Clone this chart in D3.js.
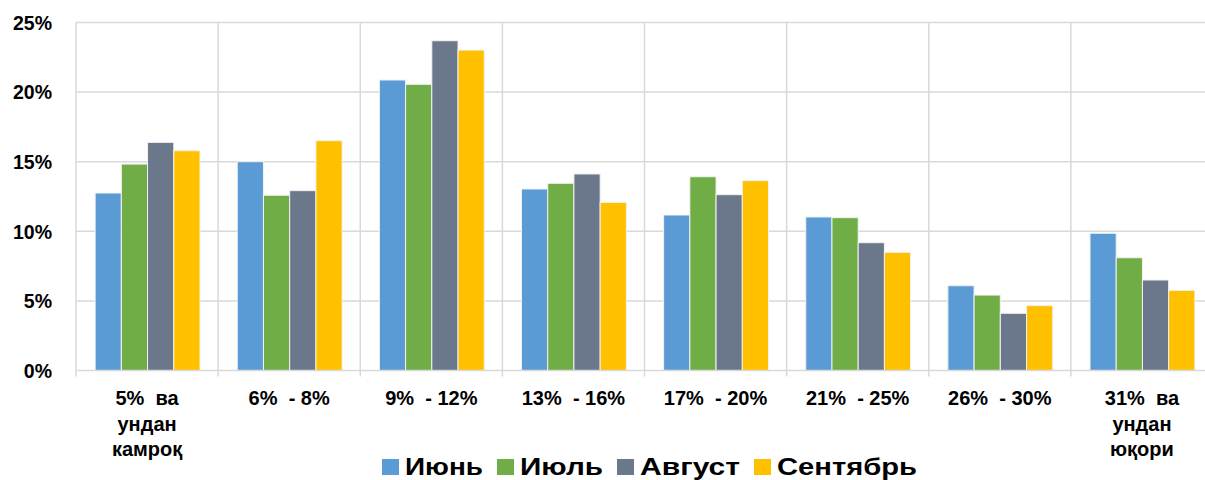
<!DOCTYPE html>
<html><head><meta charset="utf-8">
<script src="https://cdn.jsdelivr.net/npm/d3@7"></script>
<style>
html,body{margin:0;padding:0;background:#fff;}
svg{display:block;font-family:"Liberation Sans",Arial,sans-serif;}
text{white-space:pre;}
</style></head>
<body>
<svg id="chart" width="1205" height="480"></svg>
<script>
const categories = [
  ["5%  ва","ундан","камроқ"],
  ["6%  - 8%"],
  ["9%  - 12%"],
  ["13%  - 16%"],
  ["17%  - 20%"],
  ["21%  - 25%"],
  ["26%  - 30%"],
  ["31%  ва","ундан","юқори"]
];
const seriesNames = ["Июнь","Июль","Август","Сентябрь"];
const seriesColors = ["#5B9BD5","#70AD47","#6B778A","#FFC000"];
const june      = [12.75, 15.0, 20.87, 13.04, 11.17, 11.03, 6.09, 9.86];
const july      = [14.83, 12.59, 20.56, 13.45, 13.92, 10.98, 5.42, 8.10];
const august    = [16.39, 12.92, 23.69, 14.12, 12.63, 9.18, 4.11, 6.50];
const september = [15.79, 16.51, 23.02, 12.08, 13.64, 8.49, 4.66, 5.76];
const yTicks = [0,5,10,15,20,25];
const legendWidths = [78, 83, 100, 140];

(function(){
const series = [june, july, august, september];
const svg = d3.select("#chart");
const mLeft = 76, mRight = 1213, mTop = 22.5, mBottom = 370.5;

const x0 = d3.scaleBand().domain(d3.range(categories.length)).range([mLeft, mRight]).padding(0);
const bw = x0.bandwidth();
const gap = bw * 0.262;
const x1 = d3.scaleBand().domain(d3.range(seriesNames.length)).range([gap/2 + 0.5, bw - gap/2 + 0.5]).padding(0);
const y = d3.scaleLinear().domain([0,25]).range([mBottom, mTop]);

// horizontal gridlines
svg.append("g").selectAll("line").data(yTicks.filter(d=>d>0)).join("line")
  .attr("x1", mLeft).attr("x2", mRight)
  .attr("y1", d=>y(d)).attr("y2", d=>y(d))
  .attr("stroke", "#d9d9d9").attr("stroke-width", 1.5);
// vertical gridlines
svg.append("g").selectAll("line").data(d3.range(categories.length+1)).join("line")
  .attr("x1", i=> i<categories.length ? x0(i) : mRight)
  .attr("x2", i=> i<categories.length ? x0(i) : mRight)
  .attr("y1", mTop).attr("y2", mBottom + 6)
  .attr("stroke", "#d9d9d9").attr("stroke-width", 1.5);

// bars
const gBars = svg.append("g");
categories.forEach((c, ci) => {
  series.forEach((s, si) => {
    gBars.append("rect")
      .attr("x", x0(ci) + x1(si))
      .attr("width", x1.bandwidth())
      .attr("y", y(s[ci]))
      .attr("height", y(0) - y(s[ci]))
      .attr("fill", seriesColors[si])
      .attr("stroke", "#f2f2f2").attr("stroke-width", 1);
  });
});

// baseline
svg.append("line").attr("x1", mLeft).attr("x2", mRight).attr("y1", y(0)).attr("y2", y(0))
  .attr("stroke", "#d9d9d9").attr("stroke-width", 1.5);

// y axis labels
const yAxis = d3.axisLeft(y).tickValues(yTicks).tickFormat(d=>d+"%").tickSize(0).tickPadding(0);
const gy = svg.append("g").attr("transform", `translate(${mLeft-24},0)`).call(yAxis);
gy.select(".domain").remove();
gy.selectAll("text").attr("font-size", 19.5).attr("font-weight", "bold").attr("fill", "#000")
  .attr("font-family", '"Liberation Sans",Arial,sans-serif').attr("dy", "0.35em");

// category labels
const gx = svg.append("g");
categories.forEach((lines, ci) => {
  const t = gx.append("text")
    .attr("x", x0(ci) + bw/2).attr("y", 405)
    .attr("text-anchor", "middle").attr("font-size", 20).attr("font-weight", "bold").attr("fill", "#000");
  lines.forEach((ln, li) => {
    t.append("tspan").attr("x", x0(ci) + bw/2).attr("y", 405 + li*25.5).text(ln);
  });
});

// legend
const legend = svg.append("g");
let lx = 382;
seriesNames.forEach((n, i) => {
  legend.append("rect").attr("x", lx).attr("y", 459).attr("width", 17).attr("height", 16)
    .attr("fill", seriesColors[i]);
  legend.append("text").attr("x", lx + 23).attr("y", 475)
    .attr("font-size", 24).attr("font-weight", "bold").attr("fill", "#000")
    .attr("textLength", legendWidths[i]).attr("lengthAdjust", "spacingAndGlyphs")
    .text(n);
  lx += 23 + legendWidths[i] + 14;
});
})();
</script>
</body></html>
